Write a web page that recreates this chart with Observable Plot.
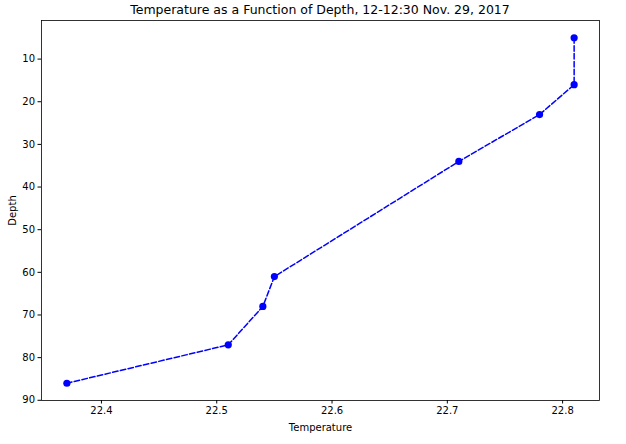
<!DOCTYPE html>
<html>
<head>
<meta charset="utf-8">
<script src="https://cdn.jsdelivr.net/npm/d3@7"></script>
<script src="https://cdn.jsdelivr.net/npm/@observablehq/plot@0.6"></script>
<style>
  body { margin: 0; background: #fff; font-family: "DejaVu Sans", sans-serif; }
  #title { width: 626px; height: 20px; position: relative; }
  #title span { position: absolute; left: 320px; transform: translateX(-50%); top: 2px; font-size: 12.5px; color: #000; white-space: nowrap; }
  svg { display: block; }
</style>
</head>
<body>
<div id="title"><span>Temperature as a Function of Depth, 12-12:30 Nov. 29, 2017</span></div>
<div id="chart"></div>
<script>
const temperature = [22.81, 22.81, 22.78, 22.71, 22.55, 22.54, 22.51, 22.37];
const depth = [5, 16, 23, 34, 61, 68, 77, 86];
const xTicks = [22.4, 22.5, 22.6, 22.7, 22.8];
const yTicks = [10, 20, 30, 40, 50, 60, 70, 80, 90];

const data = temperature.map((t, i) => ({temperature: t, depth: depth[i]}));

const chart = Plot.plot({
  width: 626,
  height: 424,
  marginTop: 0,
  marginBottom: 44,
  marginLeft: 41,
  marginRight: 27,
  style: {fontFamily: "DejaVu Sans, sans-serif", fontSize: "10px", color: "#000", background: "#fff"},
  x: {domain: [22.348, 22.832]},
  y: {domain: [0.95, 90.05], reverse: true},
  marks: [
    Plot.axisX({ticks: xTicks, tickFormat: d3.format(".1f"), tickSize: 3.5, tickPadding: 3, label: "Temperature", labelAnchor: "center", labelArrow: "none", labelOffset: 30, fontSize: 10}),
    Plot.axisY({ticks: yTicks, tickSize: 3.5, tickPadding: 3, label: "Depth", labelAnchor: "center", labelArrow: "none", labelOffset: 33, fontSize: 10}),
    Plot.line(data, {x: "temperature", y: "depth", stroke: "#0000ff", strokeWidth: 1.5, strokeDasharray: "5.5,2.4"}),
    Plot.dot(data, {x: "temperature", y: "depth", fill: "#0000ff", r: 3.6, stroke: "none"}),
    Plot.frame({stroke: "#000", strokeWidth: 0.8})
  ]
});
document.getElementById("chart").appendChild(chart);
</script>
</body>
</html>
